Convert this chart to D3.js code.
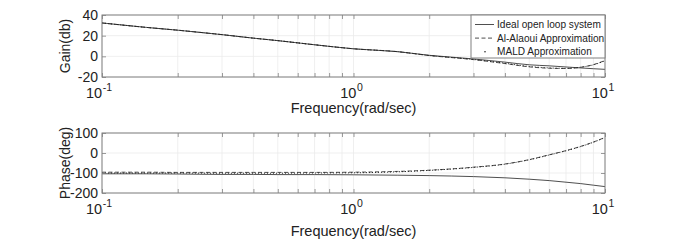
<!DOCTYPE html>
<html>
<head>
<meta charset="utf-8">
<script src="https://cdn.jsdelivr.net/npm/d3@7"></script>
<style>
	body { margin: 0; background: #fff; }
	svg { display: block; font-family: "Liberation Sans", Arial, sans-serif; }
</style>
</head>
<body>
<div id="chart"></div>
<script>
'use strict';

// values (rad/sec, dB, deg)
const freq       = [0.1, 0.15, 0.2, 0.3, 0.4, 0.5, 0.7, 1, 1.5, 2, 3, 4, 5, 6, 7, 8, 9, 10];
const gainIdeal  = [32.3, 28, 25.3, 21, 17.6, 15.2, 11.2, 7.3, 4.5, 1.0, -2.5, -5.6, -8.2, -9.2, -10.3, -11.2, -12, -12.6];
const gainAlaoui = [32.3, 28, 25.3, 21, 17.6, 15.2, 11.2, 7.3, 4.5, 0.8, -3.2, -7, -10.2, -11.5, -11.8, -10.6, -8, -4];
const gainMald   = [32.3, 28, 25.3, 21, 17.6, 15.2, 11.2, 7.3, 4.5, 0.8, -3, -6.7, -9.8, -11.2, -11.6, -10.5, -8.2, -4.3];
const phIdeal    = [-104, -104, -105, -107, -107, -108, -108, -109, -111, -113, -118, -124, -131, -138, -146, -153, -161, -168];
const phAlaoui   = [-96, -96, -97, -97, -97, -97, -97, -96, -92, -86, -71, -55, -33, -9, 12, 33, 55, 78];
const phMald     = [-100, -100, -100, -101, -101, -101, -100, -99, -94, -87, -72, -56, -34, -10, 11, 32, 54, 77];

const xMajor = [0.1, 1, 10];
const xExp = ['-1', '0', '1'];
const gainTicks = [-20, 0, 20, 40];
const phaseTicks = [-200, -100, 0, 100];
const legendNames = ['Ideal open loop system', 'Al-Alaoui Approximation', 'MALD Approximation'];

const W = 697, H = 247;
const left = 102, right = 605;
const ink = '#222';
const boxColor = '#808080';
const gridColor = '#ebebeb';
const styles = [
	{ dash: null, width: 0.8 },
	{ dash: '4,2.5', width: 0.8 },
	{ dash: '1,2', width: 1.0 }
];

const svg = d3.select('#chart')
	.append('svg')
		.attr('width', W)
		.attr('height', H);

const x = d3.scaleLog()
	.domain([0.1, 10])
	.range([left, right]);

const xMinor = d3.range(2, 10).map(k => k / 10).concat(d3.range(2, 10));

function panel(top, bottom, yDomain, yTicks, yLabel, series, xLabelY)
{
	const y = d3.scaleLinear()
		.domain(yDomain)
		.range([bottom, top]);

	const g = svg.append('g');

	// grid
	g.append('g')
		.selectAll('line.vgrid')
		.data(xMajor.concat(xMinor))
		.join('line')
			.attr('x1', d => x(d)).attr('x2', d => x(d))
			.attr('y1', top).attr('y2', bottom)
			.attr('stroke', gridColor)
			.attr('stroke-width', 0.8);
	g.append('g')
		.selectAll('line.hgrid')
		.data(yTicks)
		.join('line')
			.attr('x1', left).attr('x2', right)
			.attr('y1', d => y(d)).attr('y2', d => y(d))
			.attr('stroke', gridColor)
			.attr('stroke-width', 0.8);

	// curves
	series.forEach((vals, i) => {
		const line = d3.line()
			.x((d, j) => x(freq[j]))
			.y(d => y(d))
			.curve(d3.curveMonotoneX);
		g.append('path')
			.datum(vals)
			.attr('d', line)
			.attr('fill', 'none')
			.attr('stroke', ink)
			.attr('stroke-width', styles[i].width)
			.attr('stroke-dasharray', styles[i].dash);
	});

	// box with inward ticks on all four sides
	const bottomAxis = d3.axisBottom(x).tickValues(xMajor.concat(xMinor)).tickSize(-4).tickFormat('');
	const topAxis = d3.axisTop(x).tickValues(xMajor.concat(xMinor)).tickSize(-4).tickFormat('');
	const leftAxis = d3.axisLeft(y).tickValues(yTicks).tickSize(-4).tickFormat('');
	const rightAxis = d3.axisRight(y).tickValues(yTicks).tickSize(-4).tickFormat('');

	[[bottomAxis, `translate(0,${bottom})`], [topAxis, `translate(0,${top})`],
	 [leftAxis, `translate(${left},0)`], [rightAxis, `translate(${right},0)`]].forEach(([ax, tr]) => {
		const a = g.append('g').attr('transform', tr).call(ax);
		a.select('.domain').remove();
		a.selectAll('line').attr('stroke', boxColor).attr('stroke-width', 0.8);
	});

	g.append('rect')
		.attr('x', left).attr('y', top)
		.attr('width', right - left).attr('height', bottom - top)
		.attr('fill', 'none')
		.attr('stroke', boxColor)
		.attr('stroke-width', 1);

	// y tick labels
	g.selectAll('text.ytick')
		.data(yTicks)
		.join('text')
			.attr('x', left - 4)
			.attr('y', d => y(d))
			.attr('dy', '0.36em')
			.attr('text-anchor', 'end')
			.attr('font-size', 14)
			.attr('fill', ink)
			.text(d => d);

	// x tick labels 10^n
	const xt = g.selectAll('text.xtick')
		.data(xMajor)
		.join('text')
			.attr('x', (d, i) => x(d) - (i == 0 ? 3 : 2))
			.attr('y', bottom + 21)
			.attr('text-anchor', 'middle')
			.attr('font-size', 14.5)
			.attr('fill', ink);
	xt.append('tspan').text('10');
	xt.append('tspan')
		.attr('dy', -7)
		.attr('dx', 0.5)
		.attr('font-size', 10.5)
		.text((d, i) => xExp[i]);

	g.append('text')
		.attr('x', (left + right) / 2)
		.attr('y', xLabelY)
		.attr('text-anchor', 'middle')
		.attr('font-size', 14.5)
		.attr('fill', ink)
		.text('Frequency(rad/sec)');

	g.append('text')
		.attr('transform', `translate(70,${(top + bottom) / 2}) rotate(-90)`)
		.attr('text-anchor', 'middle')
		.attr('font-size', 14)
		.attr('fill', ink)
		.text(yLabel);

	return g;
}

panel(15, 77, [-20, 40], gainTicks, 'Gain(db)', [gainIdeal, gainAlaoui, gainMald], 113);
panel(133, 193, [-200, 100], phaseTicks, 'Phase(deg)', [phIdeal, phAlaoui, phMald], 236);

// legend
const lg = svg.append('g');
lg.append('rect')
	.attr('x', 471).attr('y', 15)
	.attr('width', right - 471).attr('height', 43)
	.attr('fill', '#fff')
	.attr('stroke', boxColor)
	.attr('stroke-width', 1);

const rows = lg.selectAll('g.row')
	.data(legendNames)
	.join('g')
		.attr('transform', (d, i) => `translate(0,${24.5 + i * 13.6})`);

rows.filter((d, i) => i < 2)
	.append('line')
		.attr('x1', 475).attr('x2', 494)
		.attr('stroke', ink)
		.attr('stroke-width', 0.8)
		.attr('stroke-dasharray', (d, i) => styles[i].dash);
rows.filter((d, i) => i == 2)
	.append('circle')
		.attr('cx', 485).attr('r', 0.8)
		.attr('fill', ink);

rows.append('text')
	.attr('x', 497)
	.attr('dy', '0.35em')
	.attr('font-size', 10.1)
	.attr('fill', ink)
	.text(d => d);
</script>
</body>
</html>
